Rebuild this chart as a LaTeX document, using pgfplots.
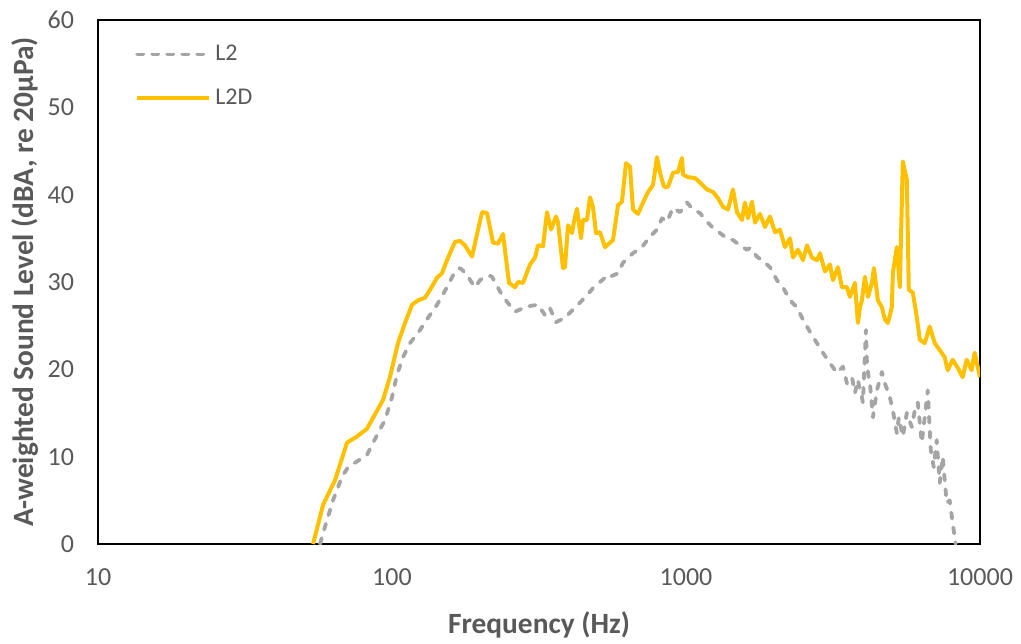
\documentclass[border=0pt]{standalone}
\usepackage{fontspec}
\setmainfont{Carlito}
\usepackage{pgfplots}
\pgfplotsset{compat=1.18}
\definecolor{lgold}{HTML}{FFC000}
\definecolor{lgray}{HTML}{A5A5A5}
\definecolor{tgray}{HTML}{595959}

\begin{document}
\begin{tikzpicture}
\begin{axis}[
  xmode=log, scale only axis, width=441pt, height=262pt,
  xmin=10, xmax=10000, ymin=0, ymax=60,
  xtick={10,100,1000,10000}, xticklabels={10,100,1000,10000},
  ytick={0,10,20,30,40,50,60},
  minor xtick={},
  major tick length=0pt, minor tick length=0pt,
  axis line style={black, line width=0.9pt},
  tick label style={font=\fontsize{13}{15}\selectfont, text=tgray},
  /pgf/number format/assume math mode=true,
  yticklabel style={xshift=-8.5pt},
  xticklabel style={yshift=-9pt},
  xlabel={\textbf{Frequency (Hz)}},
  ylabel={\textbf{A-weighted Sound Level (dBA, re 20µPa)}},
  label style={font=\fontsize{14.7}{16}\selectfont, text=tgray},
  xlabel style={at={(axis description cs:0.5,0)}, anchor=center, yshift=-40.5pt},
  ylabel style={at={(axis description cs:-0.0828,0.5)}, anchor=center},
  legend cell align=left,
  legend style={at={(axis description cs:0.035,0.968)}, anchor=north west, draw=none, fill=none,
    font=\fontsize{12}{13}\selectfont, text=tgray, row sep=8.5pt},
  legend image code/.code={\draw[#1] (0pt,0pt) -- (36pt,0pt);},
]
\coordinate (sw) at (rel axis cs:0,0);
\coordinate (ne) at (rel axis cs:1,1);

\addplot[lgray, line width=1.9pt, dash pattern=on 3pt off 4.5pt, line cap=round, line join=round] coordinates {
(56.9,0) (59.2,2.0) (63.0,5.0) (67.6,7.7) (70.9,8.8) (74.8,9.3) (82.2,10.2)
(89.6,12.7) (94.7,14.2) (100.0,16.8) (104.0,19.4) (109.0,21.4) (115.1,23.0)
(124.5,24.5) (132.6,25.9) (142.3,27.4) (153.8,29.4) (163.8,31.2) (170.3,31.6)
(174.4,31.3) (181.4,30.6) (191.6,29.4) (199.2,30.2) (204.0,30.5) (215.5,30.7)
(218.9,30.6) (238.5,28.3) (262.0,26.6) (287.9,27.2) (313.8,27.4) (331.5,26.2)
(344.7,27.0) (361.3,25.4) (387.6,25.9) (403.1,26.5) (429.2,27.4) (460.5,28.5)
(482.7,29.3) (518.0,30.2) (542.9,30.8) (551.4,30.6) (587.1,31.0) (610.5,32.2)
(660.3,33.3) (708.5,34.0) (754.3,35.2) (796.8,36.0) (828.6,37.3) (861.7,36.9)
(903.2,38.5) (954.1,38.0) (1007.9,39.1) (1056.4,38.3) (1115.8,37.9) (1178.7,36.9)
(1235.5,36.2) (1305.2,35.6) (1378.6,35.0) (1444.7,34.8) (1526.2,34.2) (1612.0,33.7)
(1650.8,33.9) (1743.7,32.9) (1827.3,32.4) (1930.2,31.7) (2039.0,30.2) (2137.0,29.4)
(2257.4,27.9) (2384.5,27.1) (2499.2,25.7) (2640.1,24.3) (2788.9,23.0) (2922.9,21.9)
(3087.6,20.7) (3261.5,19.6) (3418.6,20.3) (3527.5,18.4) (3668.2,19.1) (3755.2,17.3)
(3844.4,18.8) (3905.0,17.6) (3966.6,16.8) (3997.7,16.2) (4092.5,24.5) (4124.7,20.7)
(4189.7,18.8) (4222.6,18.4) (4322.8,14.5) (4459.7,17.6) (4637.7,19.7) (4747.3,18.4)
(4935.8,16.8) (5052.8,15.3) (5213.5,12.7) (5295.5,14.5) (5463.6,12.3) (5637.4,15.0)
(5861.7,13.4) (6000.7,15.3) (6143.0,16.2) (6337.7,11.6) (6487.9,14.5) (6641.7,17.6)
(6799.1,10.8) (6960.3,8.8) (7125.3,11.9) (7294.2,7.0) (7467.1,10.0) (7703.7,4.7)
(7886.3,5.0) (8073.2,2.4) (8264.6,0)
};
\addlegendentry{L2}

\addplot[lgold, line width=2pt, line join=round] coordinates {
(53.9,0) (58.3,4.5) (64.0,7.3) (70.3,11.6) (76.0,12.3) (82.2,13.2) (93.2,16.5)
(98.4,19.1) (104.8,23.0) (110.7,25.3) (117.0,27.4) (122.6,27.9) (129.5,28.2)
(134.7,29.1) (142.3,30.5) (147.9,31.0) (153.8,32.5) (163.8,34.6) (170.3,34.7)
(177.1,34.2) (187.1,32.9) (202.4,38.0) (210.5,37.9) (220.6,34.5) (229.4,34.4)
(238.5,35.5) (250.0,29.9) (262.0,29.4) (268.3,30.0) (279.0,29.9) (294.7,32.0)
(306.5,32.8) (313.8,34.2) (326.3,34.1) (336.7,38.0) (347.4,36.0) (361.3,37.5)
(367.0,36.8) (381.6,31.6) (387.6,31.7) (396.9,36.5) (409.5,35.6) (416.0,36.9)
(425.8,38.4) (439.4,35.0) (446.4,37.1) (460.5,37.1) (471.5,39.7) (482.7,38.6)
(494.2,35.6) (509.9,35.7) (530.3,34.0) (551.4,34.5) (564.6,34.8) (587.1,38.8)
(605.8,39.2) (625.0,43.6) (644.9,43.2) (660.3,38.3) (686.7,37.8) (714.1,39.1)
(742.6,40.3) (772.2,41.1) (796.8,44.3) (815.8,42.5) (841.7,40.9) (868.5,40.9)
(903.2,42.5) (939.3,42.6) (969.2,44.2) (976.8,42.3) (1015.8,42.0) (1073.1,41.9)
(1115.8,41.4) (1178.7,40.6) (1235.5,40.3) (1285.0,39.6) (1336.2,38.6) (1389.5,38.3)
(1444.7,40.6) (1490.7,38.0) (1550.3,37.1) (1587.0,39.1) (1624.7,37.3) (1676.8,39.2)
(1716.7,36.8) (1785.0,37.8) (1856.1,36.3) (1930.2,37.5) (2007.3,35.7) (2087.5,36.0)
(2170.7,34.0) (2257.4,35.0) (2311.0,32.8) (2403.3,33.7) (2499.2,32.5) (2578.8,34.2)
(2681.8,32.8) (2788.9,32.5) (2855.1,33.3) (2969.0,31.2) (3087.6,32.0) (3160.9,30.2)
(3287.2,31.7) (3391.8,29.4) (3527.5,29.4) (3611.3,28.3) (3755.2,29.9) (3844.4,25.3)
(3905.0,27.1) (3966.6,27.9) (4060.7,30.6) (4157.0,28.3) (4222.6,29.1) (4289.1,29.9)
(4356.8,31.6) (4494.8,27.9) (4637.7,27.1) (4747.3,25.7) (4859.4,25.3) (5013.4,27.1)
(5052.8,31.0) (5213.5,34.0) (5337.1,29.4) (5463.6,43.8) (5637.4,41.7) (5726.0,29.1)
(5907.8,28.8) (6095.1,26.0) (6239.6,23.4) (6487.9,23.0) (6746.1,24.9) (7015.0,23.0)
(7294.2,22.2) (7584.5,21.4) (7764.2,19.9) (8073.2,21.1) (8394.5,20.2) (8729.7,19.1)
(9006.6,21.1) (9366.3,19.9) (9588.2,21.9) (10000,19.1)
};
\addlegendentry{L2D}
\end{axis}
\pgfresetboundingbox
\path[use as bounding box] ([shift={(-49pt,-49.5pt)}]sw) rectangle ([shift={(20.5pt,10pt)}]ne);
\end{tikzpicture}
\end{document}
